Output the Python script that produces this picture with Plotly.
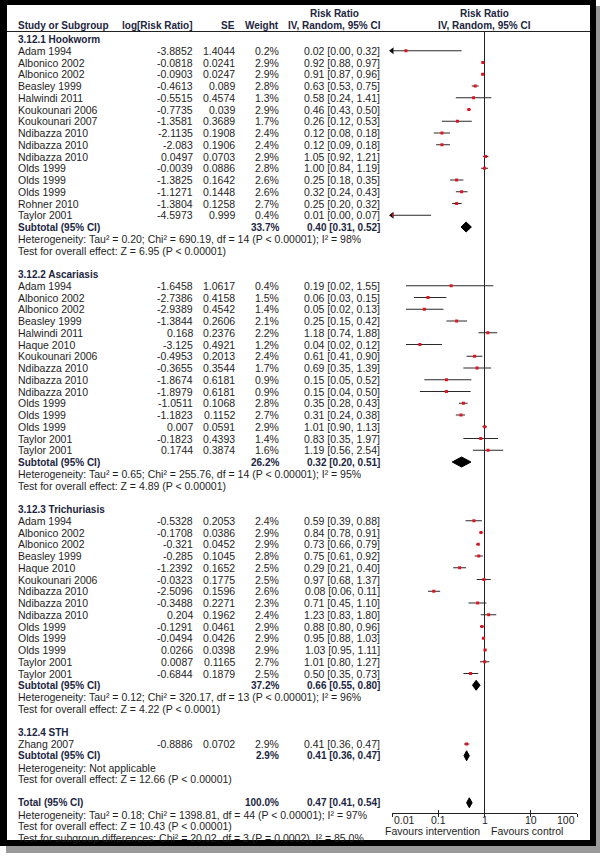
import math
import plotly.graph_objects as go

# ---------------- data ----------------
hook_study = ["Adam 1994", "Albonico 2002", "Albonico 2002", "Beasley 1999", "Halwindi 2011",
              "Koukounari 2006", "Koukounari 2007", "Ndibazza 2010", "Ndibazza 2010", "Ndibazza 2010",
              "Olds 1999", "Olds 1999", "Olds 1999", "Rohner 2010", "Taylor 2001"]
hook_logrr = [-3.8852, -0.0818, -0.0903, -0.4613, -0.5515, -0.7735, -1.3581, -2.1135, -2.083, 0.0497,
              -0.0039, -1.3825, -1.1271, -1.3804, -4.5973]
hook_se = [1.4044, 0.0241, 0.0247, 0.089, 0.4574, 0.039, 0.3689, 0.1908, 0.1906, 0.0703,
           0.0886, 0.1642, 0.1448, 0.1258, 0.999]
hook_weight = [0.2, 2.9, 2.9, 2.8, 1.3, 2.9, 1.7, 2.4, 2.4, 2.9, 2.8, 2.6, 2.6, 2.7, 0.4]
hook_rr = [0.02, 0.92, 0.91, 0.63, 0.58, 0.46, 0.26, 0.12, 0.12, 1.05, 1.00, 0.25, 0.32, 0.25, 0.01]
hook_lo = [0.00, 0.88, 0.87, 0.53, 0.24, 0.43, 0.12, 0.08, 0.09, 0.92, 0.84, 0.18, 0.24, 0.20, 0.00]
hook_hi = [0.32, 0.97, 0.96, 0.75, 1.41, 0.50, 0.53, 0.18, 0.18, 1.21, 1.19, 0.35, 0.43, 0.32, 0.07]

asc_study = ["Adam 1994", "Albonico 2002", "Albonico 2002", "Beasley 1999", "Halwindi 2011",
             "Haque 2010", "Koukounari 2006", "Ndibazza 2010", "Ndibazza 2010", "Ndibazza 2010",
             "Olds 1999", "Olds 1999", "Olds 1999", "Taylor 2001", "Taylor 2001"]
asc_logrr = [-1.6458, -2.7386, -2.9389, -1.3844, 0.168, -3.125, -0.4953, -0.3655, -1.8674, -1.8979,
             -1.0511, -1.1823, 0.007, -0.1823, 0.1744]
asc_se = [1.0617, 0.4158, 0.4542, 0.2606, 0.2376, 0.4921, 0.2013, 0.3544, 0.6181, 0.6181,
          0.1068, 0.1152, 0.0591, 0.4393, 0.3874]
asc_weight = [0.4, 1.5, 1.4, 2.1, 2.2, 1.2, 2.4, 1.7, 0.9, 0.9, 2.8, 2.7, 2.9, 1.4, 1.6]
asc_rr = [0.19, 0.06, 0.05, 0.25, 1.18, 0.04, 0.61, 0.69, 0.15, 0.15, 0.35, 0.31, 1.01, 0.83, 1.19]
asc_lo = [0.02, 0.03, 0.02, 0.15, 0.74, 0.02, 0.41, 0.35, 0.05, 0.04, 0.28, 0.24, 0.90, 0.35, 0.56]
asc_hi = [1.55, 0.15, 0.13, 0.42, 1.88, 0.12, 0.90, 1.39, 0.52, 0.50, 0.43, 0.38, 1.13, 1.97, 2.54]

tri_study = ["Adam 1994", "Albonico 2002", "Albonico 2002", "Beasley 1999", "Haque 2010",
             "Koukounari 2006", "Ndibazza 2010", "Ndibazza 2010", "Ndibazza 2010", "Olds 1999",
             "Olds 1999", "Olds 1999", "Taylor 2001", "Taylor 2001"]
tri_logrr = [-0.5328, -0.1708, -0.321, -0.285, -1.2392, -0.0323, -2.5096, -0.3488, 0.204, -0.1291,
             -0.0494, 0.0266, 0.0087, -0.6844]
tri_se = [0.2053, 0.0386, 0.0452, 0.1045, 0.1652, 0.1775, 0.1596, 0.2271, 0.1962, 0.0461,
          0.0426, 0.0398, 0.1165, 0.1879]
tri_weight = [2.4, 2.9, 2.9, 2.8, 2.5, 2.5, 2.6, 2.3, 2.4, 2.9, 2.9, 2.9, 2.7, 2.5]
tri_rr = [0.59, 0.84, 0.73, 0.75, 0.29, 0.97, 0.08, 0.71, 1.23, 0.88, 0.95, 1.03, 1.01, 0.50]
tri_lo = [0.39, 0.78, 0.66, 0.61, 0.21, 0.68, 0.06, 0.45, 0.83, 0.80, 0.88, 0.95, 0.80, 0.35]
tri_hi = [0.88, 0.91, 0.79, 0.92, 0.40, 1.37, 0.11, 1.10, 1.80, 0.96, 1.03, 1.11, 1.27, 0.73]

sth_study = ["Zhang 2007"]
sth_logrr = [-0.8886]
sth_se = [0.0702]
sth_weight = [2.9]
sth_rr = [0.41]
sth_lo = [0.36]
sth_hi = [0.47]

group_titles = ["3.12.1 Hookworm", "3.12.2 Ascariasis", "3.12.3 Trichuriasis", "3.12.4 STH"]
sub_weight = [33.7, 26.2, 37.2, 2.9]
sub_rr = [0.40, 0.32, 0.66, 0.41]
sub_lo = [0.31, 0.20, 0.55, 0.36]
sub_hi = [0.52, 0.51, 0.80, 0.47]
sub_het = [
    "Heterogeneity: Tau² = 0.20; Chi² = 690.19, df = 14 (P < 0.00001); I² = 98%",
    "Heterogeneity: Tau² = 0.65; Chi² = 255.76, df = 14 (P < 0.00001); I² = 95%",
    "Heterogeneity: Tau² = 0.12; Chi² = 320.17, df = 13 (P < 0.00001); I² = 96%",
    "Heterogeneity: Not applicable",
]
sub_test = [
    "Test for overall effect: Z = 6.95 (P < 0.00001)",
    "Test for overall effect: Z = 4.89 (P < 0.00001)",
    "Test for overall effect: Z = 4.22 (P < 0.0001)",
    "Test for overall effect: Z = 12.66 (P < 0.00001)",
]

total_weight = 100.0
total_rr, total_lo, total_hi = 0.47, 0.41, 0.54
total_notes = [
    "Heterogeneity: Tau² = 0.18; Chi² = 1398.81, df = 44 (P < 0.00001); I² = 97%",
    "Test for overall effect: Z = 10.43 (P < 0.00001)",
    "Test for subgroup differences: Chi² = 20.02, df = 3 (P = 0.0002), I² = 85.0%",
]

axis_ticks = [0.01, 0.1, 1, 10, 100]
axis_ticktext = ["0.01", "0.1", "1", "10", "100"]
favours_left = "Favours intervention"
favours_right = "Favours control"

groups = [
    dict(study=hook_study, logrr=hook_logrr, se=hook_se, w=hook_weight, rr=hook_rr, lo=hook_lo, hi=hook_hi),
    dict(study=asc_study, logrr=asc_logrr, se=asc_se, w=asc_weight, rr=asc_rr, lo=asc_lo, hi=asc_hi),
    dict(study=tri_study, logrr=tri_logrr, se=tri_se, w=tri_weight, rr=tri_rr, lo=tri_lo, hi=tri_hi),
    dict(study=sth_study, logrr=sth_logrr, se=sth_se, w=sth_weight, rr=sth_rr, lo=sth_lo, hi=sth_hi),
]

# ---------------- layout constants ----------------
W, H = 600, 856
FONT = "Liberation Sans, Arial, sans-serif"
REG = 10.5
BOLD = 10
TXT = "#1e1e1e"
BTXT = "#1c2540"
Y0, DY = 39.0, 11.75
X_STUDY, X_LOG, X_SE, X_W, X_CI, X_RRHEAD = 16, 195, 236.5, 281, 382, 334
AX_LEFT, AX_RIGHT, AX_Y = 392, 577, 813
XMIN = 0.01
L10 = math.log10


def ry(k):
    return Y0 + DY * k


annotations = []


def txt(x, y, s, anchor="left", bold=False, xref="x", xshift=0, size=None):
    annotations.append(dict(
        x=x, y=y, xref=xref, yref="y", text=("<b>%s</b>" % s) if bold else s,
        showarrow=False, xanchor=anchor, yanchor="middle", xshift=xshift,
        font=dict(family=FONT, size=size or (BOLD if bold else REG), color=BTXT if bold else TXT),
    ))


def ci_text(rr, lo, hi):
    return "%.2f [%.2f, %.2f]" % (rr, lo, hi)


# header (annotations on a log axis take log10 positions)
txt(X_STUDY, 25, "Study or Subgroup", bold=True)
txt(X_LOG, 25, "log[Risk Ratio]", anchor="right", bold=True)
txt(X_SE, 25, "SE", anchor="right", bold=True)
txt(X_W, 25, "Weight", anchor="right", bold=True)
txt(X_RRHEAD, 13.5, "Risk Ratio", anchor="center", bold=True)
txt(X_RRHEAD, 25, "IV, Random, 95% CI", anchor="center", bold=True)
txt(L10(1), 13.5, "Risk Ratio", anchor="center", bold=True, xref="x2")
txt(L10(1), 25, "IV, Random, 95% CI", anchor="center", bold=True, xref="x2")

ci_x, ci_y, sq_x, sq_y, arr_x, arr_y = [], [], [], [], [], []
diamonds = []

k = 0
for gi, g in enumerate(groups):
    txt(X_STUDY, ry(k), group_titles[gi], bold=True)
    k += 1
    for i in range(len(g["study"])):
        y = ry(k)
        txt(X_STUDY, y, g["study"][i])
        txt(X_LOG, y, "%g" % g["logrr"][i], anchor="right")
        txt(X_SE, y, "%g" % g["se"][i], anchor="right")
        txt(X_W, y, "%.1f%%" % g["w"][i], anchor="right")
        txt(X_CI, y, ci_text(g["rr"][i], g["lo"][i], g["hi"][i]), anchor="right")
        lo = g["lo"][i]
        ci_x += [max(lo, XMIN), g["hi"][i], None]
        ci_y += [y, y, None]
        if lo < XMIN:
            arr_x.append(XMIN)
            arr_y.append(y)
        if g["rr"][i] >= XMIN:
            sq_x.append(g["rr"][i])
            sq_y.append(y)
        k += 1
    y = ry(k)
    txt(X_STUDY, y, "Subtotal (95% CI)", bold=True)
    txt(X_W, y, "%.1f%%" % sub_weight[gi], anchor="right", bold=True)
    txt(X_CI, y, ci_text(sub_rr[gi], sub_lo[gi], sub_hi[gi]), anchor="right", bold=True)
    diamonds.append((sub_lo[gi], sub_rr[gi], sub_hi[gi], y))
    k += 1
    txt(X_STUDY, ry(k), sub_het[gi])
    k += 1
    txt(X_STUDY, ry(k), sub_test[gi])
    k += 2

y = ry(k)
txt(X_STUDY, y, "Total (95% CI)", bold=True)
txt(X_W, y, "%.1f%%" % total_weight, anchor="right", bold=True)
txt(X_CI, y, ci_text(total_rr, total_lo, total_hi), anchor="right", bold=True)
diamonds.append((total_lo, total_rr, total_hi, y))
k += 1
for note in total_notes:
    txt(X_STUDY, ry(k), note)
    k += 1

# axis tick labels (end labels aligned inward, as in RevMan)
for i, (tv, tt) in enumerate(zip(axis_ticks, axis_ticktext)):
    anc = "left" if i == 0 else ("right" if i == len(axis_ticks) - 1 else "center")
    txt(L10(tv), 820, tt, anchor=anc, xref="x2")

txt(L10(1), 831, favours_left, anchor="right", xref="x2", xshift=-3)
txt(L10(1), 831, favours_right, anchor="left", xref="x2", xshift=4)

fig = go.Figure()

# reference line at RR = 1
fig.add_trace(go.Scatter(x=[1, 1], y=[31.5, AX_Y], xaxis="x2", yaxis="y", mode="lines",
                         line=dict(color="#222", width=1), hoverinfo="skip", showlegend=False))
fig.add_trace(go.Scatter(x=ci_x, y=ci_y, xaxis="x2", yaxis="y", mode="lines",
                         line=dict(color="#2a2a2a", width=1), hoverinfo="skip", showlegend=False))
fig.add_trace(go.Scatter(x=arr_x, y=arr_y, xaxis="x2", yaxis="y", mode="markers", cliponaxis=False,
                         marker=dict(symbol="triangle-left", size=6, color="#111"),
                         hoverinfo="skip", showlegend=False))
fig.add_trace(go.Scatter(x=sq_x, y=sq_y, xaxis="x2", yaxis="y", mode="markers",
                         marker=dict(symbol="square", size=3, color="#e0141e", line=dict(width=0)),
                         hoverinfo="skip", showlegend=False))
HD = 5
for lo, rr, hi, y in diamonds:
    fig.add_trace(go.Scatter(x=[lo, rr, hi, rr, lo], y=[y, y - HD, y, y + HD, y], xaxis="x2", yaxis="y",
                             mode="lines", fill="toself", fillcolor="#000", line=dict(color="#000", width=1),
                             hoverinfo="skip", showlegend=False))

shapes = [
    dict(type="rect", xref="x", yref="y", x0=6, y0=6, x1=600, y1=853, fillcolor="#9a9a9a",
         line=dict(width=0), layer="below"),
    dict(type="rect", xref="x", yref="y", x0=0, y0=0, x1=596, y1=846, fillcolor="#000",
         line=dict(width=0), layer="below"),
    dict(type="rect", xref="x", yref="y", x0=7, y0=5, x1=590, y1=840, fillcolor="#fff",
         line=dict(width=0), layer="below"),
    dict(type="line", xref="x", yref="y", x0=7, x1=590, y0=31.5, y1=31.5,
         line=dict(color="#222", width=1)),
]

axis_common = dict(type="log", range=[-2, 2], anchor="free", position=1 - AX_Y / H,
                   showgrid=False, zeroline=False, tickvals=axis_ticks, showticklabels=False,
                   ticklen=3, tickcolor="#222", tickwidth=1, fixedrange=True)

fig.update_layout(
    width=W, height=H, margin=dict(l=0, r=0, t=0, b=0),
    paper_bgcolor="#fff", plot_bgcolor="rgba(0,0,0,0)",
    showlegend=False, annotations=annotations, shapes=shapes,
    xaxis=dict(range=[0, W], domain=[0, 1], visible=False, fixedrange=True),
    yaxis=dict(range=[H, 0], domain=[0, 1], visible=False, fixedrange=True),
    xaxis2=dict(domain=[AX_LEFT / W, AX_RIGHT / W], showline=True, linecolor="#222", linewidth=1,
                ticks="outside", **axis_common),
    xaxis3=dict(overlaying="x2", showline=False, ticks="inside", **axis_common),
)
# invisible trace so the overlaying axis draws its (upward) ticks
fig.add_trace(go.Scatter(x=[1], y=[AX_Y], xaxis="x3", yaxis="y", mode="markers",
                         marker=dict(size=1, opacity=0), hoverinfo="skip", showlegend=False))

fig.write_html("out.html", config={"displayModeBar": False},
               post_script="document.body.style.margin='0px';document.body.style.overflow='hidden';")
